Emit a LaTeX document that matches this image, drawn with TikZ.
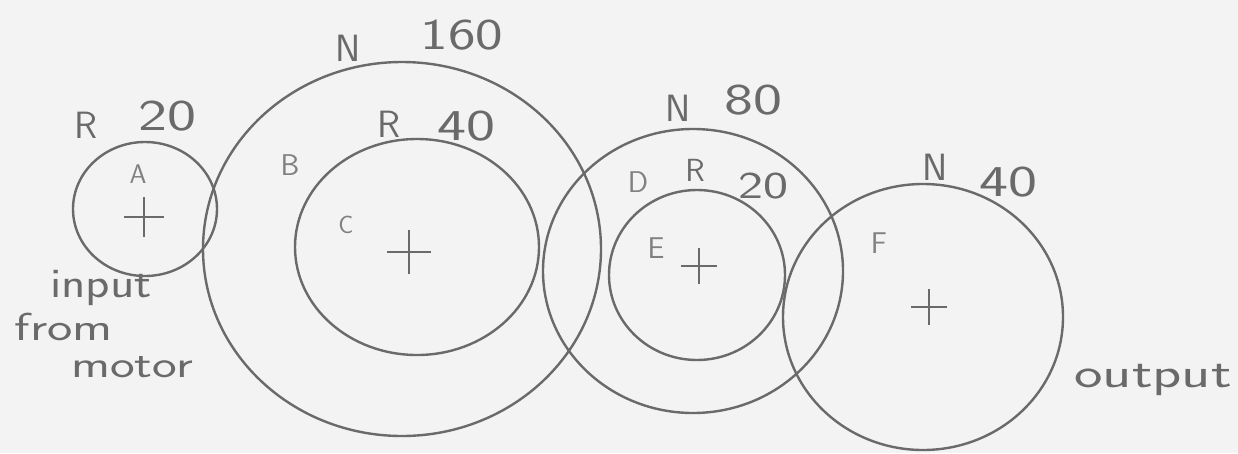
\documentclass[tikz,border=0pt]{standalone}
\usepackage{fontspec}
\begin{document}
\begin{tikzpicture}[x=1pt,y=-1pt,
  gear/.style={draw=pencil,line width=2.4pt},
  axis/.style={draw=pencil,line width=2.6pt},
  digits/.style={text=pencil,font=\sffamily\fontsize{44}{44}\selectfont,inner sep=0pt,xscale=1.4},
  letter/.style={text=pencil,font=\sffamily\fontsize{38}{38}\selectfont,inner sep=0pt},
  small/.style={text=pencil!85,font=\sffamily\fontsize{30}{30}\selectfont,inner sep=0pt},
  hand/.style={text=pencil,font=\sffamily\fontsize{42}{42}\selectfont,inner sep=0pt,xscale=1.2}]
\definecolor{pencil}{HTML}{6A6A6A}
\definecolor{paper}{HTML}{F3F3F3}
\fill[paper] (0,0) rectangle (1238,453);
\useasboundingbox (0,0) rectangle (1238,453);

% gear A  (R 20, input)
\draw[gear] (145,209) ellipse [x radius=72, y radius=67];
% gear B (N 160)
\draw[gear] (402,249) ellipse [x radius=199, y radius=187];
% gear C (R 40)
\draw[gear] (417,247) ellipse [x radius=122, y radius=108];
% gear D (N 80)
\draw[gear] (693,271) ellipse [x radius=150, y radius=142];
% gear E (R 20)
\draw[gear] (697,275) ellipse [x radius=88, y radius=85];
% gear F (N 40)
\draw[gear] (923,317) ellipse [x radius=140, y radius=133];

% shaft centres
\coordinate (cA) at (144,217);
\coordinate (cC) at (409,252);
\coordinate (cE) at (699,266);
\coordinate (cF) at (929,307);
\foreach \c/\s in {cA/20,cC/22,cE/18,cF/18}{
  \draw[axis] ([xshift=-\s pt]\c) -- ([xshift=\s pt]\c);
  \draw[axis] ([yshift=-\s pt]\c) -- ([yshift=\s pt]\c);
}

% labels
\node[letter] (rA) at (86,125) {R};
\node[digits] (tA) at (167,116) {20};
\node[small,font=\sffamily\fontsize{27}{27}\selectfont] (lA) at (138,174) {A};
\node[hand] (in1) at (101,288) {input};
\node[hand,font=\sffamily\fontsize{39}{39}\selectfont,xscale=1.15] (in2) at (64,327) {from};
\node[hand,font=\sffamily\fontsize{38}{38}\selectfont,xscale=1.15] (in3) at (132,367) {motor};

\node[letter] (nB) at (348,48) {N};
\node[digits,xscale=0.95] (tB) at (462,35) {160};
\node[small] (lB) at (290,165) {B};
\node[letter] (rC) at (389,124) {R};
\node[digits] (tC) at (466,126) {40};
\node[small,font=\sffamily\fontsize{25}{25}\selectfont] (lC) at (346,225) {C};

\node[letter] (nD) at (678,108) {N};
\node[digits] (tD) at (753,100) {80};
\node[small] (lD) at (638,182) {D};
\node[letter,font=\sffamily\fontsize{32}{32}\selectfont] (rE) at (695,170) {R};
\node[digits,font=\sffamily\fontsize{38}{38}\selectfont] (tE) at (763,186) {20};
\node[small] (lE) at (656,248) {E};

\node[letter] (nF) at (935,167) {N};
\node[digits] (tF) at (1008,182) {40};
\node[small] (lF) at (879,243) {F};
\node[hand,xscale=1.2] (out) at (1153,380) {output};
\end{tikzpicture}
\end{document}
